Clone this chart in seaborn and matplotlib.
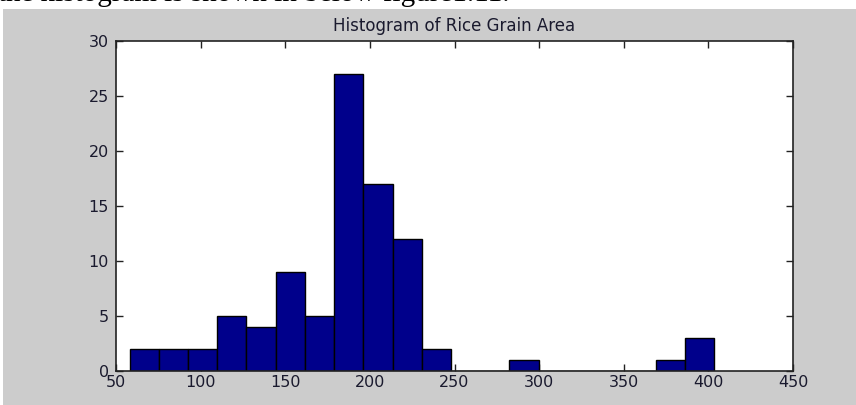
import numpy as np
import pandas as pd
import matplotlib
matplotlib.use("Agg")
import matplotlib.pyplot as plt
from matplotlib.patches import Rectangle
import seaborn as sns

# ---- data ----
title = "Histogram of Rice Grain Area"
caption = "the histogram is shown in below figure1.11."
area_min = 58.0
area_max = 403.3
n_bins = 20
counts = [2, 2, 2, 5, 4, 9, 5, 27, 17, 12, 2, 0, 0, 1, 0, 0, 0, 0, 1, 3]
x_ticks = [50, 100, 150, 200, 250, 300, 350, 400, 450]
y_ticks = [0, 5, 10, 15, 20, 25, 30]

edges = np.linspace(area_min, area_max, n_bins + 1)
centers = (edges[:-1] + edges[1:]) / 2
df = pd.DataFrame({"area": centers, "count": counts})

sns.set_style("ticks")
plt.rcParams["font.family"] = ["DejaVu Sans"]

fig = plt.figure(figsize=(8.56, 4.05), dpi=100)
fig.patch.set_facecolor("white")
# MATLAB-like grey figure background
fig.patches.append(Rectangle((3 / 856, 0), 1, (405 - 9) / 405, transform=fig.transFigure,
                             facecolor="#cccccc", edgecolor="none", zorder=-5))
# cropped caption line at the very top (only its lower part is visible)
fig.text(-0.002, 1 - 1.0 / 405, caption, fontsize=21, family=["Liberation Serif", "DejaVu Serif"],
         va="baseline", ha="left", color="black", zorder=-4)

ax = fig.add_axes([116 / 856, (405 - 371) / 405, (793 - 116) / 856, (371 - 41) / 405])
ax.set_zorder(2)
ax.set_facecolor("white")
sns.histplot(data=df, x="area", weights="count", bins=[float(e) for e in edges], ax=ax,
             color="#00008B", edgecolor="black", linewidth=1.0, alpha=1.0)

ax.set_xlim(50, 450)
ax.set_ylim(0, 30)
ax.set_xticks(x_ticks)
ax.set_yticks(y_ticks)
ax.set_xticklabels([str(t) for t in x_ticks], fontsize=11.5)
ax.set_yticklabels([str(t) for t in y_ticks], fontsize=11.5)
ax.set_xlabel("")
ax.set_ylabel("")
ax.set_title(title, fontsize=12, pad=7, color="#1a1a2e")
ax.tick_params(direction="in", length=5, width=1, top=True, right=True,
               colors="#222222", labelcolor="#1a1a2e")
ax.tick_params(axis="x", pad=3)
ax.tick_params(axis="y", pad=5)
for s in ax.spines.values():
    s.set_visible(True)
    s.set_color("#222222")
    s.set_linewidth(1.2)

fig.savefig("out.png", dpi=100, facecolor=fig.get_facecolor())
